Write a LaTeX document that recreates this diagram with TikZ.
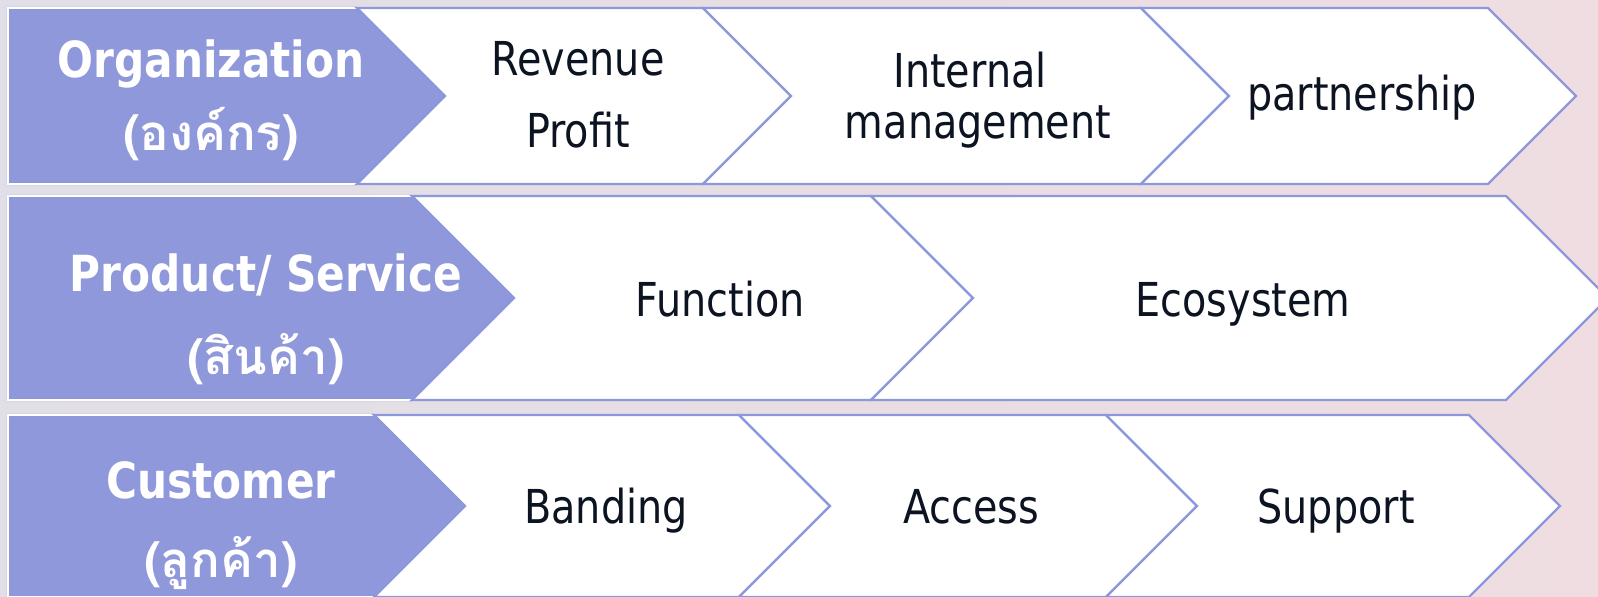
\documentclass[tikz,border=0pt]{standalone}
\usepackage{fontspec}
\setmainfont{DejaVu Sans}[FakeStretch=0.85]
\newfontfamily\thaifont[Script=Thai]{Loma}
\usepackage{color}
\definecolor{labfill}{RGB}{142,152,218}
\definecolor{edge}{RGB}{140,151,220}
\definecolor{ink}{RGB}{12,20,33}
\definecolor{bgleft}{RGB}{224,222,230}
\definecolor{bgright}{RGB}{239,221,225}

\begin{document}
\begin{tikzpicture}[x=0.02cm, y=-0.02cm,
  chev/.style={fill=white, draw=edge, line width=1.3pt},
  lab/.style={fill=labfill, draw=edge, line width=1.3pt},
  frame/.style={draw=white, line width=1.6pt},
  head/.style={anchor=base, inner sep=0pt, text=white, font=\fontsize{28.3}{34}\selectfont\bfseries},
  headth/.style={anchor=base, inner sep=0pt, text=white, font=\thaifont\fontsize{28}{34}\selectfont\bfseries},
  item/.style={anchor=base, inner sep=0pt, text=ink, font=\fontsize{26.6}{32}\selectfont}]
% Draw background
\useasboundingbox (0,0) rectangle (1598,596);
\clip (0,0) rectangle (1598,596);
\shade[left color=bgleft, right color=bgright] (0,0) rectangle (1598,596);
% Draw first row
\draw[lab] (8,8) -- (357,8) -- (445,96) -- (357,184) -- (8,184) -- cycle;
\draw[frame] (357,8) -- (8,8) -- (8,184) -- (357,184);
\draw[chev] (357,8) -- (703,8) -- (791,96) -- (703,184) -- (357,184) -- (445,96) -- cycle;
\draw[chev] (703,8) -- (1141,8) -- (1229,96) -- (1141,184) -- (703,184) -- (791,96) -- cycle;
\draw[chev] (1141,8) -- (1488,8) -- (1576,96) -- (1488,184) -- (1141,184) -- (1229,96) -- cycle;
% Draw second row
\draw[lab] (8,196) -- (412,196) -- (514,298) -- (412,400) -- (8,400) -- cycle;
\draw[frame] (412,196) -- (8,196) -- (8,400) -- (412,400);
\draw[chev] (412,196) -- (871,196) -- (973,298) -- (871,400) -- (412,400) -- (514,298) -- cycle;
\draw[chev] (871,196) -- (1506,196) -- (1608,298) -- (1506,400) -- (871,400) -- (973,298) -- cycle;
% Draw third row
\draw[lab] (8,415) -- (374,415) -- (465,506) -- (374,597) -- (8,597) -- cycle;
\draw[frame] (374,415) -- (8,415) -- (8,597) -- (374,597);
\draw[chev] (374,415) -- (739,415) -- (830,506) -- (739,597) -- (374,597) -- (465,506) -- cycle;
\draw[chev] (739,415) -- (1106,415) -- (1197,506) -- (1106,597) -- (739,597) -- (830,506) -- cycle;
\draw[chev] (1106,415) -- (1469,415) -- (1560,506) -- (1469,597) -- (1106,597) -- (1197,506) -- cycle;
% Draw labels
\node[head] (org) at (211,77) {Organization};
\node[headth] (orgth) at (211,150) {(องค์กร)};
\node[item] (rev) at (578,75) {Revenue};
\node[item] (pro) at (578,147) {Profit};
\node[item] (int) at (970,87) {Internal};
\node[item] (man) at (978,138) {management};
\node[item] (par) at (1362,110) {partnership};
\node[head] (prod) at (266,291) {Product/ Service};
\node[headth] (prodth) at (266,374) {(สินค้า)};
\node[item] (fun) at (720,316) {Function};
\node[item] (eco) at (1243,316) {Ecosystem};
\node[head] (cus) at (221,498) {Customer};
\node[headth] (custh) at (221,577) {(ลูกค้า)};
\node[item] (ban) at (606,523) {Banding};
\node[item] (acc) at (971,523) {Access};
\node[item] (sup) at (1336,523) {Support};
\end{tikzpicture}
\end{document}
